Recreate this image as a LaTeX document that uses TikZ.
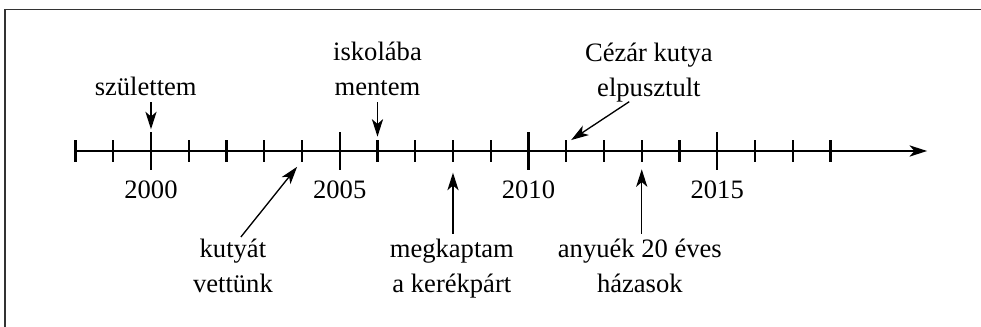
\documentclass[tikz,border=0pt]{standalone}
\usepackage{fontspec}
\setmainfont{Liberation Serif}
\usetikzlibrary{arrows.meta}
\usetikzlibrary{positioning}

\begin{document}
\begin{tikzpicture}[x=14.2pt, y=14.2pt, >={Stealth[length=6.6pt,width=4.2pt,inset=1.8pt]},
       esemeny/.style={align=center, inner sep=2pt, font=\fontsize{10}{13.2}\selectfont},
       evszam/.style={anchor=base, font=\fontsize{10}{12}\selectfont},
       vonal/.style={line width=0.85pt},
       nyil/.style={->, line width=0.5pt}]
       \useasboundingbox (-4,-4.662) rectangle (21.987,4);
       \draw[line width=0.5pt, black!80] (-3.87,3.74) rectangle (23,-6);

       % tengely
       \draw[->, vonal] (-2,0) -- (20.56,0);
       \foreach \x in {-2,...,18} \draw[vonal] (\x,-0.29) -- (\x,0.29);
       \foreach \x [evaluate=\x as \ev using int(2000+\x)] in {0,5,10,15} {
         \draw[vonal] (\x,-0.5) -- (\x,0.5);
         \node[evszam] (ev\x) at (\x,-1.253) {\ev};
       }

       % felette
       \coordinate (t2000) at (0,0.575);
       \node[esemeny, anchor=south] (szul) at (-0.14,1.297) {születtem};
       \path[nyil] (szul.south -| t2000) edge (t2000);
       \coordinate (t2006) at (6,0.379);
       \node[esemeny, anchor=south] (iskola) at (6,1.297) {iskolába\\mentem};
       \path[nyil] (iskola) edge (t2006);
       \coordinate (t2011) at (11.13,0.29);
       \node[esemeny, anchor=south] (cezar) at (13.19,1.144) {Cézár kutya\\elpusztult};
       \path[nyil] ([xshift=-7.4pt,yshift=2.3pt]cezar.south) edge (t2011);

       % alatta
       \coordinate (t2004) at (3.87,-0.42);
       \node[esemeny, anchor=north] (kutya) at (2.17,-2.186) {kutyát\\vettünk};
       \path[nyil] ([xshift=3pt,yshift=-1.3pt]kutya.north) edge (t2004);
       \coordinate (t2008) at (8,-0.575);
       \node[esemeny, anchor=north] (bicikli) at (7.97,-2.186) {megkaptam\\a kerékpárt};
       \path[nyil] (bicikli.north -| t2008) edge (t2008);
       \coordinate (t2013) at (13,-0.485);
       \node[esemeny, anchor=north] (anyuek) at (12.95,-2.186) {anyuék 20 éves\\házasok};
       \path[nyil] (anyuek.north -| t2013) edge (t2013);

\end{tikzpicture}
\end{document}
